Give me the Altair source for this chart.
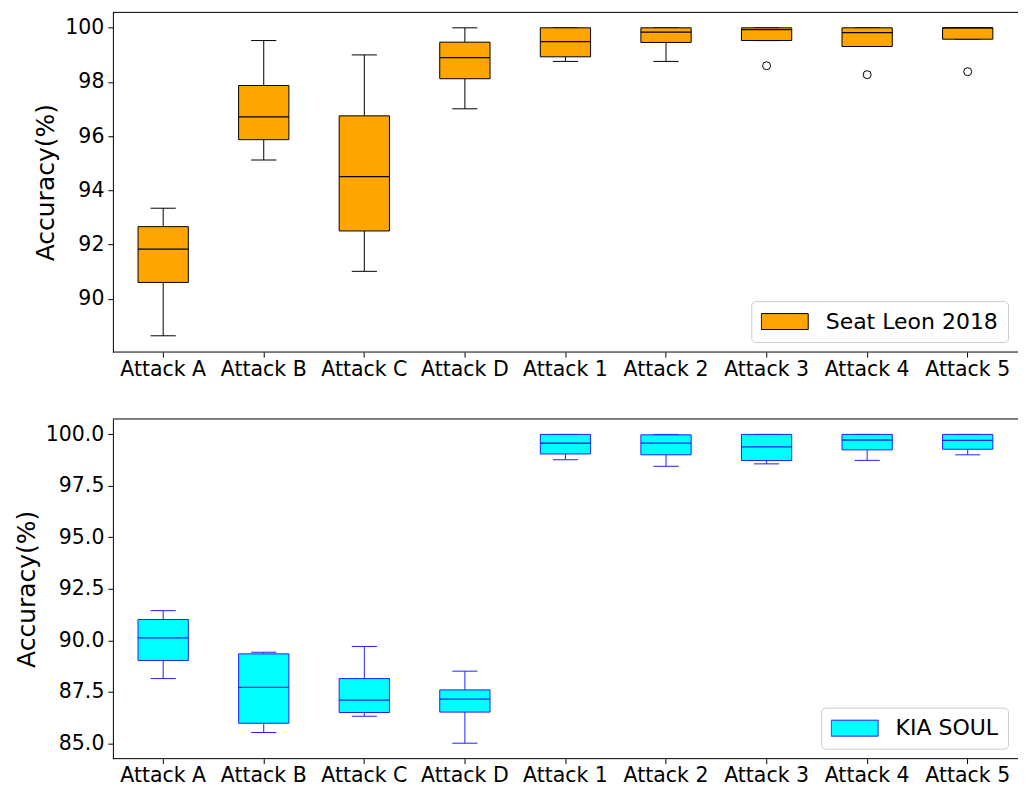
import altair as alt
import pandas as pd

cats = ["Attack A", "Attack B", "Attack C", "Attack D",
        "Attack 1", "Attack 2", "Attack 3", "Attack 4", "Attack 5"]

# Seat Leon 2018 box statistics
seat_lo = [88.63, 95.12, 91.01, 97.01, 98.76, 98.76, 99.53, 99.31, 99.58]
seat_q1 = [90.60, 95.87, 92.50, 98.12, 98.93, 99.46, 99.53, 99.31, 99.58]
seat_med = [91.83, 96.71, 94.51, 98.90, 99.49, 99.84, 99.93, 99.82, 100.0]
seat_q3 = [92.66, 97.87, 96.75, 99.47, 100.0, 100.0, 100.0, 100.0, 100.0]
seat_hi = [93.34, 99.53, 99.00, 100.0, 100.0, 100.0, 100.0, 100.0, 100.0]
seat_out_cat = ["Attack 3", "Attack 4", "Attack 5"]
seat_out_val = [98.60, 98.27, 98.38]

# KIA SOUL box statistics
kia_lo = [88.14, 85.52, 86.31, 85.00, 98.77, 98.45, 98.57, 98.74, 99.01]
kia_q1 = [89.02, 85.97, 86.49, 86.51, 99.05, 99.01, 98.73, 99.25, 99.28]
kia_med = [90.12, 87.71, 87.09, 87.14, 99.57, 99.58, 99.39, 99.73, 99.71]
kia_q3 = [91.01, 89.34, 88.14, 87.59, 100.0, 99.98, 100.0, 100.0, 100.0]
kia_hi = [91.44, 89.42, 89.70, 88.50, 100.0, 100.0, 100.0, 100.0, 100.0]
kia_out_cat = []
kia_out_val = []

seat_ticks = [90, 92, 94, 96, 98, 100]
kia_ticks = [85, 87.5, 90, 92.5, 95, 97.5, 100]

W = 906
H = 340
STEP = W / len(cats)
FONT = "DejaVu Sans"


def panel(name, lo, q1, med, q3, hi, out_cat, out_val, fill, edge,
          ydomain, yticks, yfmt):
    df = pd.DataFrame({"cat": cats, "lo": lo, "q1": q1, "med": med,
                       "q3": q3, "hi": hi, "series": name})
    xaxis = alt.Axis(title=None, domain=False, labelAngle=0, labelFontSize=20.5,
                     labelFont=FONT, labelColor="black", tickColor="black",
                     tickSize=5, labelPadding=2, grid=False)
    xscale = alt.Scale(domain=cats, paddingInner=0, paddingOuter=0)

    def xe():
        return alt.X("cat:N", sort=cats, scale=xscale, axis=xaxis)

    yaxis = alt.Axis(title="Accuracy(%)", values=yticks, format=yfmt,
                     labelFontSize=20.5, labelFont=FONT, labelColor="black",
                     titleFontSize=25, titleFont=FONT, titleFontWeight="normal",
                     titleColor="black", titlePadding=6, tickColor="black",
                     tickSize=5, labelPadding=4, domainColor="black",
                     grid=False)
    yscale = alt.Scale(domain=ydomain, nice=False, zero=False)

    def ye(f):
        return alt.Y(f + ":Q", scale=yscale, axis=yaxis)

    base = alt.Chart(df)
    wh_up = base.mark_rule(color=edge, strokeWidth=1).encode(
        x=xe(), y=ye("q3"), y2="hi")
    wh_lo = base.mark_rule(color=edge, strokeWidth=1).encode(
        x=xe(), y=ye("lo"), y2="q1")
    cap_hi = base.mark_tick(color=edge, size=STEP * 0.25, thickness=1,
                            opacity=1).encode(x=xe(), y=ye("hi"))
    cap_lo = base.mark_tick(color=edge, size=STEP * 0.25, thickness=1,
                            opacity=1).encode(x=xe(), y=ye("lo"))
    box = base.mark_bar(width=alt.RelativeBandSize(0.5), stroke=edge,
                        strokeWidth=1, opacity=1).encode(
        x=xe(), y=ye("q1"), y2="q3",
        color=alt.Color("series:N",
                        scale=alt.Scale(domain=[name], range=[fill]),
                        legend=alt.Legend(
                            title=None, orient="bottom-right", offset=10,
                            symbolType="M-1,-0.34L1,-0.34L1,0.34L-1,0.34Z",
                            symbolSize=2209, symbolStrokeColor=edge,
                            symbolStrokeWidth=1, symbolOpacity=1,
                            clipHeight=22,
                            labelFontSize=22, labelFont=FONT, labelLimit=0,
                            labelColor="black", labelOffset=17, padding=9.5,
                            cornerRadius=4, strokeColor="#cccccc",
                            fillColor="white")))
    medl = base.mark_tick(color=edge, size=STEP * 0.5, thickness=1.3,
                          opacity=1).encode(x=xe(), y=ye("med"))
    layers = [wh_up, wh_lo, cap_hi, cap_lo, box, medl]
    if out_cat:
        odf = pd.DataFrame({"cat": out_cat, "val": out_val})
        pts = alt.Chart(odf).mark_point(shape="circle", filled=False, size=64,
                                        color="black", strokeWidth=1,
                                        opacity=1).encode(x=xe(), y=ye("val"))
        layers.append(pts)
    one = alt.Chart(pd.DataFrame({"s": [0]}))
    top_sp = one.mark_rule(color="black", strokeWidth=1).encode(
        x=alt.value(0), x2=alt.value(W), y=alt.value(0))
    bot_sp = one.mark_rule(color="black", strokeWidth=1).encode(
        x=alt.value(0), x2=alt.value(W), y=alt.value(H))
    layers += [top_sp, bot_sp]
    return alt.layer(*layers).properties(width=W, height=H)


top = panel("Seat Leon 2018", seat_lo, seat_q1, seat_med, seat_q3, seat_hi,
            seat_out_cat, seat_out_val, "#ffa500", "black",
            [88.03, 100.57], seat_ticks, "d")
bottom = panel("KIA SOUL", kia_lo, kia_q1, kia_med, kia_q3, kia_hi,
               kia_out_cat, kia_out_val, "#00ffff", "#2020ff",
               [84.25, 100.75], kia_ticks, ".1f")

chart = alt.vconcat(top, bottom, spacing=67, bounds="flush").resolve_scale(
    color="independent", x="independent", y="independent"
).resolve_legend(color="independent").properties(
    padding={"left": 6, "top": 3, "right": 0, "bottom": 0}
).configure_view(stroke=None).configure_axis(grid=False)

chart.save("out.html", embed_options={"renderer": "svg", "actions": False})
